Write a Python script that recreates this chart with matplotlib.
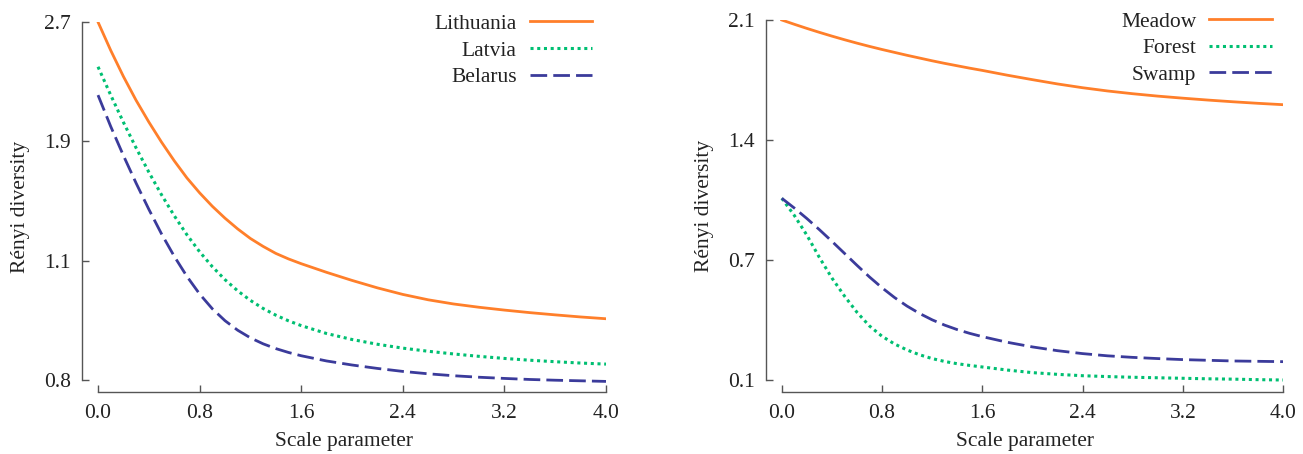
import matplotlib
matplotlib.use("Agg")
import matplotlib.pyplot as plt

plt.rcParams['font.family'] = ['Liberation Serif', 'DejaVu Serif']

scale = [0.0, 0.1, 0.2, 0.3, 0.4, 0.5, 0.6, 0.7, 0.8, 0.9, 1.0, 1.1, 1.2, 1.3, 1.4, 1.5, 1.6,
         1.8, 2.0, 2.2, 2.4, 2.6, 2.8, 3.0, 3.2, 3.4, 3.6, 3.8, 4.0]

# Left panel (countries)
lithuania = [2.70, 2.51, 2.335, 2.175, 2.03, 1.895, 1.77, 1.655, 1.555, 1.465, 1.385, 1.313, 1.249, 1.196, 1.149, 1.112, 1.080,
             1.022, 0.968, 0.918, 0.874, 0.838, 0.810, 0.788, 0.769, 0.752, 0.737, 0.723, 0.711]
latvia = [2.40, 2.21, 2.028, 1.856, 1.694, 1.542, 1.402, 1.274, 1.160, 1.060, 0.973, 0.898, 0.834, 0.780, 0.735, 0.697, 0.665,
          0.612, 0.572, 0.540, 0.514, 0.493, 0.475, 0.459, 0.445, 0.433, 0.423, 0.414, 0.407]
belarus = [2.21, 2.00, 1.805, 1.62, 1.445, 1.28, 1.13, 0.995, 0.877, 0.778, 0.698, 0.634, 0.583, 0.543, 0.511, 0.485, 0.463,
           0.428, 0.401, 0.378, 0.358, 0.342, 0.329, 0.319, 0.311, 0.304, 0.299, 0.295, 0.291]
left_yticks = [0.3, 1.1, 1.9, 2.7]
left_yticklabels = ['0.8', '1.1', '1.9', '2.7']

# Right panel (habitats)
meadow = [2.100, 2.075, 2.051, 2.028, 2.006, 1.985, 1.965, 1.946, 1.928, 1.911, 1.894, 1.878, 1.862, 1.847, 1.833, 1.819, 1.806,
          1.778, 1.752, 1.727, 1.705, 1.686, 1.670, 1.656, 1.644, 1.633, 1.623, 1.614, 1.606]
forest = [1.06, 0.96, 0.845, 0.715, 0.595, 0.49, 0.395, 0.315, 0.255, 0.21, 0.175, 0.147, 0.125, 0.108, 0.095, 0.085, 0.076,
          0.058, 0.043, 0.033, 0.025, 0.020, 0.016, 0.013, 0.010, 0.007, 0.005, 0.002, 0.0]
swamp = [1.06, 1.003, 0.942, 0.877, 0.809, 0.739, 0.669, 0.601, 0.538, 0.481, 0.431, 0.388, 0.351, 0.320, 0.294, 0.272, 0.253,
         0.220, 0.193, 0.171, 0.154, 0.141, 0.132, 0.125, 0.119, 0.115, 0.111, 0.109, 0.107]
right_yticks = [0.0, 0.7, 1.4, 2.1]
right_yticklabels = ['0.1', '0.7', '1.4', '2.1']

xticks = [0.0, 0.8, 1.6, 2.4, 3.2, 4.0]
xticklabels = ['0.0', '0.8', '1.6', '2.4', '3.2', '4.0']

ORANGE = '#FF7F2A'
GREEN = '#00BF72'
BLUE = '#3B3B9B'
SPINE = '#555555'
FS = 15.5

fig = plt.figure(figsize=(13.03, 4.54), dpi=100)
W, H = 1303, 454


def make_axes(x0, x1, ytop, ybot):
    return fig.add_axes([x0 / W, 1 - ybot / H, (x1 - x0) / W, (ybot - ytop) / H])


def style(ax, yticks, yticklabels, ylim, legend_x):
    ax.set_xlim(-0.126, 4.0)
    ax.set_ylim(*ylim)
    for s in ['top', 'right']:
        ax.spines[s].set_visible(False)
    ax.spines['left'].set_bounds(yticks[0], yticks[-1])
    ax.spines['bottom'].set_bounds(0.0, 4.0)
    for s in ['left', 'bottom']:
        ax.spines[s].set_color(SPINE)
        ax.spines[s].set_linewidth(1.0)
    ax.set_xticks(xticks)
    ax.set_xticklabels(xticklabels)
    ax.set_yticks(yticks)
    ax.set_yticklabels(yticklabels)
    ax.tick_params(axis='both', direction='in', length=5, width=1.0, color=SPINE,
                   labelsize=FS, labelcolor='#222222')
    ax.tick_params(axis='x', pad=9)
    ax.tick_params(axis='y', pad=8)
    ax.set_xlabel('Scale parameter', fontsize=FS, color='#222222', labelpad=6)
    ax.set_ylabel('Rényi diversity', fontsize=FS, color='#222222', labelpad=10)
    leg = ax.legend(loc='upper right', frameon=False, markerfirst=False, fontsize=FS,
                    handlelength=2.9, handletextpad=0.6, labelspacing=0.3,
                    bbox_to_anchor=(legend_x, 1.045), borderaxespad=0.0)
    for t in leg.get_texts():
        t.set_color('#222222')


axL = make_axes(82, 606, 22, 392)
axL.plot(scale, lithuania, color=ORANGE, lw=2.0, label='Lithuania')
axL.plot(scale, latvia, color=GREEN, lw=2.2, linestyle=(0, (1, 1.2)), label='Latvia')
axL.plot(scale, belarus, color=BLUE, lw=2.0, linestyle=(0, (6, 2.2)), label='Belarus')
style(axL, left_yticks, left_yticklabels, (0.22, 2.7), 0.99)

axR = make_axes(766, 1283, 20, 392)
axR.plot(scale, meadow, color=ORANGE, lw=2.0, label='Meadow')
axR.plot(scale, forest, color=GREEN, lw=2.2, linestyle=(0, (1, 1.2)), label='Forest')
axR.plot(scale, swamp, color=BLUE, lw=2.0, linestyle=(0, (6, 2.2)), label='Swamp')
style(axR, right_yticks, right_yticklabels, (-0.07, 2.1), 0.995)

fig.savefig('out.png', dpi=100)
